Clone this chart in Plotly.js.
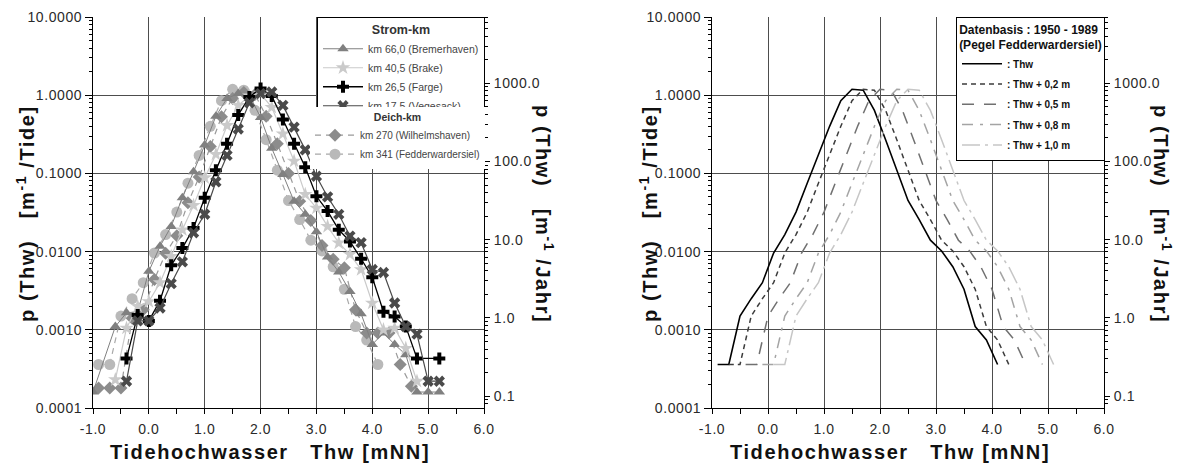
<!DOCTYPE html>
<html><head><meta charset="utf-8">
<script src="https://cdn.plot.ly/plotly-3.0.1.min.js"></script>
<style>
html,body{margin:0;padding:0;background:#fff;}
#chart{width:1184px;height:467px;}
.annotation-text{letter-spacing:1.6px;}
[class$="tick"] > text{letter-spacing:0.6px;}
</style></head><body><div id="chart"></div>
<script>
// ---------- data ----------
// Left panel: p(Thw) per tide at river (Strom-km) and dike (Deich-km) gauges
const bremX = [-1.0,-0.6,-0.4,-0.2,0,0.2,0.4,0.6,0.8,1.0,1.2,1.4,1.6,1.8,2.0,2.2,2.4,2.6,2.8,3.0,3.2,3.4,3.6,3.8,4.0,4.2,4.4,4.6,4.8,5.0,5.2];
const bremY = [0.00016,0.0011,0.00165,0.0017,0.0056,0.0117,0.021,0.049,0.105,0.23,0.54,0.91,1.05,1.0,0.52,0.21,0.097,0.044,0.030,0.018,0.0085,0.0055,0.0031,0.0016,0.00065,0.00091,0.00065,0.00048,0.00016,0.00016,0.00016];

const brakeX = [-0.6,-0.4,-0.2,0,0.2,0.4,0.6,0.8,1.0,1.2,1.4,1.6,1.8,2.0,2.2,2.4,2.6,2.8,3.0,3.2,3.4,3.6,3.8,4.0,4.2,4.4,4.6,4.8];
const brakeY = [0.00023,0.00105,0.0020,0.0023,0.0040,0.0087,0.019,0.039,0.088,0.175,0.41,0.74,0.98,1.05,0.70,0.32,0.144,0.054,0.036,0.021,0.0129,0.0092,0.0059,0.0022,0.0010,0.00105,0.00058,0.00022];

const fargeX = [-0.4,-0.2,0,0.2,0.4,0.6,0.8,1.0,1.2,1.4,1.6,1.8,2.0,2.2,2.4,2.6,2.8,3.0,3.2,3.4,3.6,3.8,4.0,4.2,4.4,4.6,4.8,5.2];
const fargeY = [0.00043,0.00155,0.0013,0.00236,0.0067,0.0111,0.020,0.049,0.11,0.24,0.56,0.95,1.22,0.98,0.49,0.24,0.12,0.051,0.033,0.019,0.0135,0.0081,0.0047,0.0017,0.00148,0.0011,0.00043,0.00043];

const vegX = [-0.4,-0.2,0,0.2,0.4,0.6,0.8,1.0,1.2,1.4,1.6,1.8,2.0,2.2,2.4,2.6,2.8,3.0,3.2,3.4,3.6,3.8,4.0,4.2,4.4,4.6,4.8,5.0,5.2];
const vegY = [0.00022,0.0013,0.0013,0.0019,0.0039,0.0074,0.0174,0.030,0.078,0.17,0.37,0.80,1.05,1.10,0.74,0.39,0.20,0.092,0.050,0.030,0.0158,0.013,0.0059,0.0054,0.0022,0.0011,0.00088,0.00022,0.00022];

const wilhX = [-0.9,-0.7,-0.5,-0.3,-0.1,0.1,0.3,0.5,0.7,0.9,1.1,1.3,1.5,1.7,1.9,2.1,2.3,2.5,2.7,2.9,3.1,3.3,3.5,3.7,3.9,4.1,4.3,4.5,4.7];
const wilhY = [0.00018,0.00018,0.00018,0.0014,0.0018,0.0044,0.0095,0.016,0.042,0.09,0.22,0.53,0.91,1.08,1.02,0.54,0.24,0.10,0.044,0.025,0.012,0.008,0.0062,0.0018,0.00091,0.00091,0.00091,0.00036,0.00019];

const fedX = [-0.9,-0.7,-0.5,-0.3,-0.1,0.1,0.3,0.5,0.7,0.9,1.1,1.3,1.5,1.7,1.9,2.1,2.3,2.5,2.7,2.9,3.1,3.3,3.5,3.7,3.9,4.1];
const fedY = [0.00036,0.00036,0.0015,0.0025,0.004,0.0096,0.0165,0.032,0.075,0.17,0.40,0.85,1.19,1.16,0.64,0.27,0.11,0.045,0.0257,0.014,0.0102,0.0064,0.0033,0.0011,0.00074,0.00036];

// Right panel: Fedderwardersiel distribution (Thw) and raised water levels
const thwX   = [-0.9,-0.7,-0.5,-0.3,-0.1,0.1,0.3,0.5,0.7,0.9,1.1,1.3,1.5,1.7,1.9,2.1,2.3,2.5,2.7,2.9,3.1,3.3,3.5,3.7,3.9,4.1];
const thw02X = [-0.7,-0.5,-0.3,-0.1,0.1,0.3,0.5,0.7,0.9,1.1,1.3,1.5,1.7,1.9,2.1,2.3,2.5,2.7,2.9,3.1,3.3,3.5,3.7,3.9,4.1,4.3];
const thw05X = [-0.4,-0.2,0.0,0.2,0.4,0.6,0.8,1.0,1.2,1.4,1.6,1.8,2.0,2.2,2.4,2.6,2.8,3.0,3.2,3.4,3.6,3.8,4.0,4.2,4.4,4.6];
const thw08X = [-0.1,0.1,0.3,0.5,0.7,0.9,1.1,1.3,1.5,1.7,1.9,2.1,2.3,2.5,2.7,2.9,3.1,3.3,3.5,3.7,3.9,4.1,4.3,4.5,4.7,4.9];
const thw10X = [0.1,0.3,0.5,0.7,0.9,1.1,1.3,1.5,1.7,1.9,2.1,2.3,2.5,2.7,2.9,3.1,3.3,3.5,3.7,3.9,4.1,4.3,4.5,4.7,4.9,5.1];
const thwY = fedY;

// tick labels
const xTickVals = [-1,0,1,2,3,4,5,6];
const xTickText = ['-1.0','0.0','1.0','2.0','3.0','4.0','5.0','6.0'];
const tideVals = [0.0001,0.001,0.01,0.1,1,10];
const tideText = ['0.0001','0.0010','0.0100','0.1000','1.0000','10.0000'];
const jahrVals = [0.1,1,10,100,1000];
const jahrText = ['0.1','1.0','10.0','100.0','1000.0'];
const tidesPerYear = 705;

// ---------- axis furniture ----------
const F = 'Arial, "Liberation Sans", sans-serif';
function logMinor(lo, hi){ const v=[]; for(let e=lo;e<=hi;e++){for(let m=2;m<=9;m++){v.push(m*Math.pow(10,e));}} return v; }
const minorTide = logMinor(-4,0);
const minorJahr = logMinor(-2,3);
const gridVals = [0.001,0.01,0.1,1];
const tickFont = {family:F, size:14, color:'#2a2a2a'};
const GRID = '#4d4d4d';

function xax(dom, anchor){
  return {domain:dom, anchor, range:[-1,6], tickmode:'array', tickvals:xTickVals, ticktext:xTickText,
    showgrid:true, gridcolor:GRID, gridwidth:1, zeroline:false, showline:true, linecolor:'#000', linewidth:1,
    ticks:'outside', ticklen:5, tickcolor:'#000', tickfont:tickFont, ticklabelstandoff:3,
    minor:{dtick:0.5, tick0:0, ticks:'outside', ticklen:5, tickcolor:'#000', showgrid:false}, fixedrange:true};
}
// main y axis of each panel: horizontal grid only
function yGrid(anchor){
  return {type:'log', range:[-4,1], domain:[0,1], anchor, tickmode:'array', tickvals:gridVals,
    showticklabels:false, ticks:'', showgrid:true, gridcolor:GRID, gridwidth:1, showline:false, zeroline:false, fixedrange:true};
}
// overlaid left axis: labels, ticks and axis line
function yLeft(anchor, over){
  return {type:'log', range:[-4,1], anchor, overlaying:over, side:'left', tickmode:'array', tickvals:tideVals, ticktext:tideText,
    showgrid:false, zeroline:false, showline:true, linecolor:'#000', linewidth:1,
    ticks:'outside', ticklen:7, tickcolor:'#000', tickfont:tickFont,
    minor:{tickmode:'array', tickvals:minorTide, ticks:'outside', ticklen:3, tickcolor:'#000', showgrid:false}, fixedrange:true};
}
function yRight(anchor, over){
  return {type:'log', range:[Math.log10(1e-4*tidesPerYear), Math.log10(10*tidesPerYear)], anchor, overlaying:over, side:'right',
    tickmode:'array', tickvals:jahrVals, ticktext:jahrText, showgrid:false, zeroline:false, showline:true, linecolor:'#000', linewidth:1,
    ticks:'outside', ticklen:5, tickcolor:'#000', tickfont:tickFont, ticklabelstandoff:1,
    minor:{tickmode:'array', tickvals:minorJahr, ticks:'outside', ticklen:3, tickcolor:'#000', showgrid:false}, fixedrange:true};
}

// ---------- traces ----------
function strom(x,y,name,rank,color,lw,sym,size){
  return {x,y,name,legend:'legend',legendrank:rank,mode:'lines+markers',xaxis:'x',yaxis:'y',
    line:{color,width:lw}, marker:{symbol:sym,size,color,line:{width:0}}};
}
function deich(x,y,name,rank,color,lc,sym,size){
  return {x,y,name,legend:'legend2',legendrank:rank,mode:'lines+markers',xaxis:'x',yaxis:'y',
    line:{color:lc,width:1.2,dash:'6px,5px'}, marker:{symbol:sym,size,color,line:{width:0}}};
}
function thw(x,name,rank,color,dash,lw){
  return {x,y:thwY,name,legend:'legend3',legendrank:rank,legendgroup:'g'+rank,mode:'lines',xaxis:'x2',yaxis:'y4',
    line:{color,width:lw,dash}};
}
// empty placeholders so that the overlaid (labelled) axes are drawn
function axisHolder(xa, ya){
  return {x:[null], y:[null], xaxis:xa, yaxis:ya, mode:'markers', showlegend:false, hoverinfo:'skip'};
}

const data = [
  deich(fedX,fedY,'km 341 (Fedderwardersiel)',2,'#b9b9b9','#a8a8a8','circle',11),
  deich(wilhX,wilhY,'km 270 (Wilhelmshaven)',1,'#8c8c8c','#9a9a9a','diamond',10),
  strom(bremX,bremY,'km 66,0 (Bremerhaven)',1,'#808080',1,'triangle-up',10),
  strom(brakeX,brakeY,'km 40,5 (Brake)',2,'#cacaca',1.2,'star',11),
  strom(fargeX,fargeY,'km 26,5 (Farge)',3,'#000000',1.3,'cross',10),
  strom(vegX,vegY,'km 17,5 (Vegesack)',4,'#4a4a4a',1.2,'x',10),
  thw(thwX,': Thw',1,'#000000','solid',1.6),
  thw(thw02X,': Thw + 0,2 m',2,'#3c3c3c','5px,4px',1.5),
  thw(thw05X,': Thw + 0,5 m',3,'#707070','12px,10px',1.5),
  thw(thw08X,': Thw + 0,8 m',4,'#a4a4a4','11px,7px,3px,7px',1.5),
  thw(thw10X,': Thw + 1,0 m',5,'#c6c6c6','18px,5px,3px,5px',1.5),
  axisHolder('x','y2'), axisHolder('x','y3'), axisHolder('x2','y5'), axisHolder('x2','y6')
];

// ---------- layout ----------
const W = 1184, TOP = 17, BOT = 408;
const px = v => v / W;
const py = v => (BOT - v) / (BOT - TOP);
const NB = '\u00a0';
const yTitleTide = 'p' + NB + '(Thw)' + NB+NB+NB + '[m<sup>-1</sup>' + NB + '/Tide]';
const yTitleJahr = 'p' + NB + '(Thw)' + NB+NB+NB + '[m<sup>-1</sup>' + NB + '/Jahr]';
const xTitle = 'Tidehochwasser' + NB+NB+NB + 'Thw' + NB + '[mNN]';
const titleFont = {family:F, size:20, color:'#111', weight:'bold'};

function ann(text, x, y, angle){
  return {text, x:px(x), y:py(y), xref:'paper', yref:'paper', showarrow:false, textangle:angle,
    xanchor:'center', yanchor:'middle', font:titleFont};
}

const layout = {
  width:W, height:467, paper_bgcolor:'#fff', plot_bgcolor:'#fff',
  margin:{l:0, r:0, t:TOP, b:467-BOT, autoexpand:false},
  showlegend:true,
  xaxis: xax([px(93), px(484)], 'y'),
  yaxis: yGrid('x'),
  yaxis2: yRight('x','y'),
  yaxis3: yLeft('x','y'),
  xaxis2: xax([px(712), px(1104)], 'y4'),
  yaxis4: yGrid('x2'),
  yaxis5: yRight('x2','y4'),
  yaxis6: yLeft('x2','y4'),
  legend:{x:px(317), y:1, xanchor:'left', yanchor:'top', bgcolor:'#fff', bordercolor:'#000', borderwidth:1,
    font:{family:F, size:10.5, color:'#444'}, itemwidth:40, tracegroupgap:0,
    title:{text:'Strom-km', side:'top center', font:{family:F, size:12.5, color:'#333', weight:'bold'}}},
  legend2:{x:px(310), y:py(107), xanchor:'left', yanchor:'top', bgcolor:'#fff', borderwidth:0,
    font:{family:F, size:10, color:'#444'}, itemwidth:40, tracegroupgap:0,
    title:{text:'Deich-km', side:'top center', font:{family:F, size:10.5, color:'#333', weight:'bold'}}},
  legend3:{x:px(956), y:1, xanchor:'left', yanchor:'top', bgcolor:'#fff', bordercolor:'#000', borderwidth:1,
    font:{family:F, size:10, color:'#111', weight:'bold'}, itemwidth:40, tracegroupgap:1.3,
    title:{text:'Datenbasis : 1950 - 1989<br>(Pegel Fedderwardersiel)', side:'top center', font:{family:F, size:12, color:'#111', weight:'bold'}}},
  annotations:[
    ann(xTitle, 270, 452, 0),
    ann(xTitle, 890, 452, 0),
    ann(yTitleTide, 25, 214, -90),
    ann(yTitleJahr, 545, 214, 90),
    ann(yTitleTide, 648, 214, -90),
    ann(yTitleJahr, 1163, 214, 90)
  ]
};

Plotly.newPlot('chart', data, layout, {displayModeBar:false, staticPlot:true});
</script></body></html>
